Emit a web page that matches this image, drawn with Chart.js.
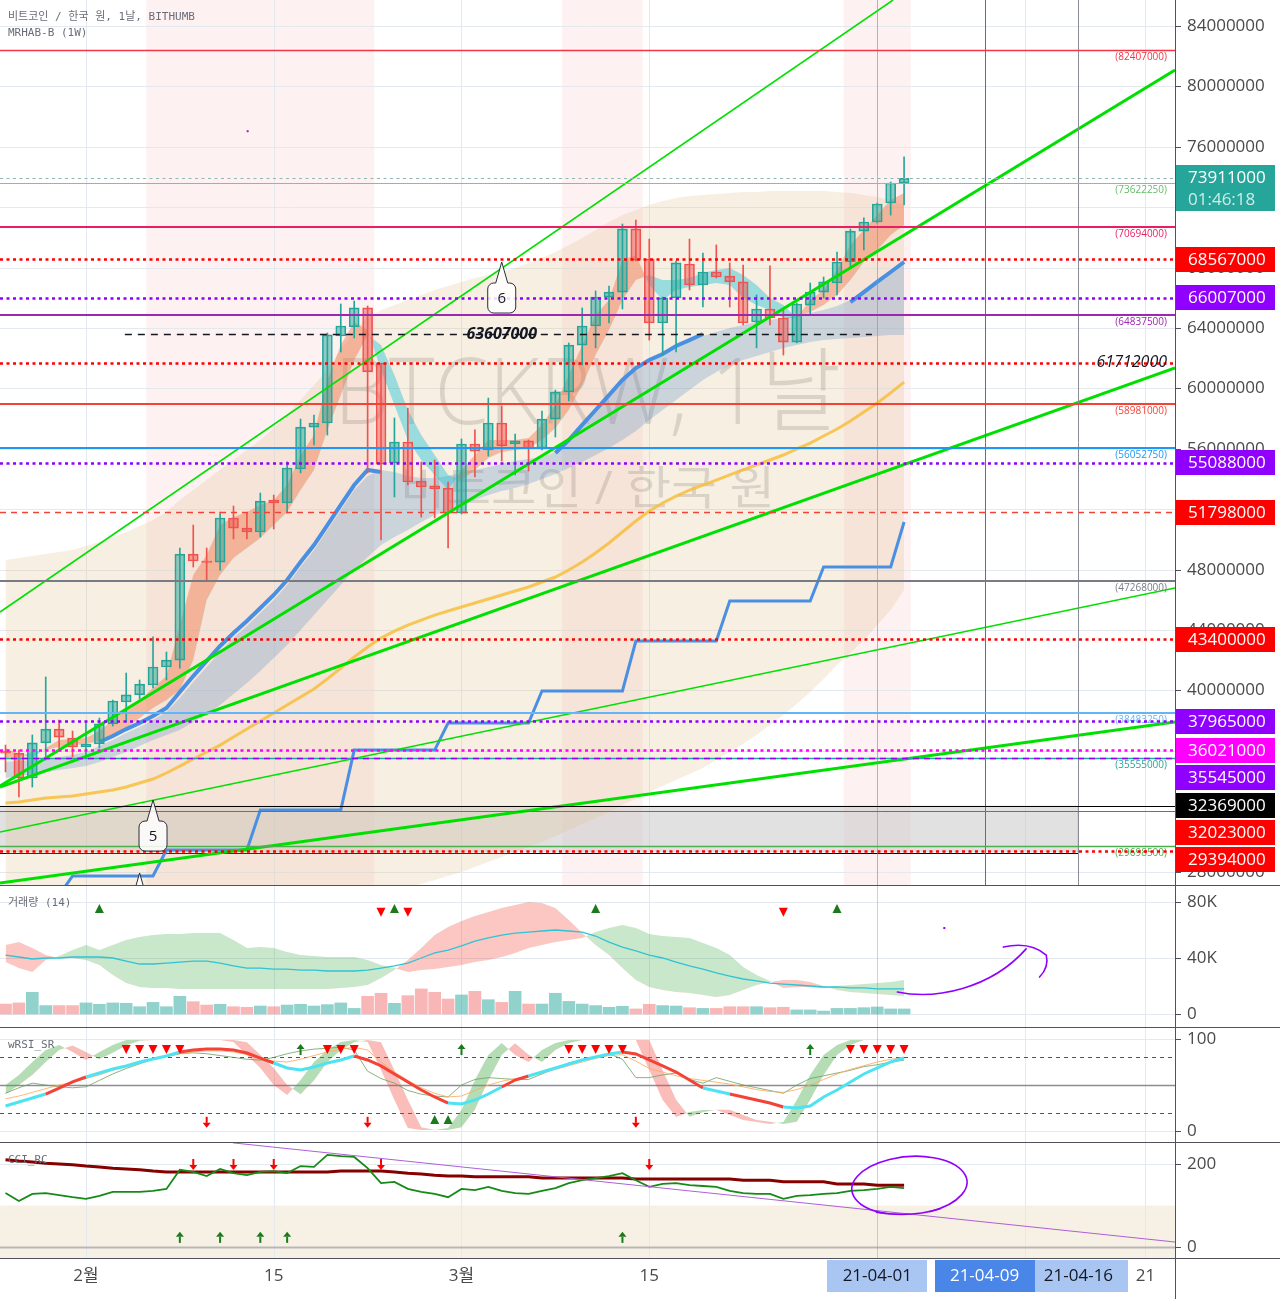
<!DOCTYPE html>
<html>
<head>
<meta charset="utf-8">
<title>BTCKRW 1D</title>
<script src="https://cdn.jsdelivr.net/npm/chart.js@4.4.1/dist/chart.umd.min.js"></script>
<style>
  html, body { margin: 0; padding: 0; background: #fff; }
  #wrap { position: relative; width: 1280px; height: 1299px; overflow: hidden; }
  #wrap canvas { position: absolute; left: 0; }
  .hsep { position: absolute; left: 0; width: 1280px; height: 1px; background: #50535e; }
  .vsep { position: absolute; top: 0; left: 1175px; width: 1px; height: 1299px; background: #50535e; }
</style>
</head>
<body>
<div id="wrap">
  <canvas id="mainChart" width="1280" height="885" style="top:0px"></canvas>
  <canvas id="volChart" width="1280" height="141" style="top:886px"></canvas>
  <canvas id="rsiChart" width="1280" height="114" style="top:1028px"></canvas>
  <canvas id="cciChart" width="1280" height="156" style="top:1143px"></canvas>
  <div class="hsep" style="top:885px"></div>
  <div class="hsep" style="top:1027px"></div>
  <div class="hsep" style="top:1142px"></div>
  <div class="hsep" style="top:1258px"></div>
  <div class="vsep"></div>
</div>
<script>
// ---------- data (day 0 = 2021-02-01, one entry per daily bar from 01-26 to 04-03) ----------
const dayIdx = [-6,-5,-4,-3,-2,-1,0,1,2,3, 4,5,6,7,8,9,10,11,12,13, 14,15,16,17,18,19,20,21,22,23,
  24,25,26,27,28,29,30,31,32,33, 34,35,36,37,38,39,40,41,42,43, 44,45,46,47,48,49,50,51,52,53,
  54,55,56,57,58,59,60,61];

// prices in millions of KRW
const openP = [35.99,35.85,34.20,36.52,37.44,36.85,36.25,36.45,37.78,39.23,
  39.70,40.36,41.55,42.01,49.03,48.57,48.50,51.42,50.75,50.49,
  52.61,52.41,54.66,57.44,57.71,63.47,64.07,65.33,61.68,55.06,
  56.45,53.87,53.54,53.40,51.75,56.32,55.92,57.71,56.32,56.52,
  56.05,57.97,59.76,62.87,64.13,66.05,66.38,70.56,68.57,64.33,
  65.99,68.24,66.85,67.71,67.44,67.05,64.40,65.26,64.66,63.07,
  65.52,66.38,66.98,68.37,70.42,71.02,72.28,73.60];
const highP = [36.38,36.05,37.05,40.89,38.04,37.31,37.91,38.17,39.36,41.15,
  40.69,43.54,42.54,49.43,50.95,49.43,51.81,52.21,51.75,53.07,
  52.94,55.13,57.97,58.24,63.67,65.59,65.79,65.46,61.68,58.04,
  58.70,55.13,55.26,53.80,56.65,57.25,59.36,58.83,56.98,56.58,
  58.50,59.89,63.01,65.33,66.45,66.78,70.89,71.15,69.89,66.05,
  68.44,69.89,68.97,69.50,68.31,68.17,66.19,68.11,65.19,65.66,
  66.98,67.38,69.03,70.56,71.29,72.28,73.67,75.33];
const lowP = [34.60,32.94,33.60,35.39,36.05,35.59,35.52,36.19,37.64,37.91,
  39.43,40.16,40.69,41.48,48.17,47.31,47.97,50.03,50.03,50.16,
  50.69,51.75,54.40,56.25,56.91,62.41,63.34,54.40,49.96,52.81,
  53.60,51.48,51.42,49.43,51.68,54.13,55.52,55.19,54.27,54.53,
  55.92,56.78,59.17,61.55,62.68,64.33,65.26,68.44,63.20,62.21,
  62.41,66.52,65.39,67.31,65.39,64.20,62.68,64.20,62.21,63.01,
  64.86,65.99,66.19,68.04,69.17,70.95,71.48,72.15];
const closeP = [35.85,34.20,36.52,37.44,36.91,36.25,36.45,37.78,39.30,39.70,
  40.42,41.55,42.01,49.03,48.57,48.47,51.42,50.75,50.49,52.54,
  52.41,54.73,57.44,57.71,63.54,64.13,65.33,61.09,54.99,56.45,
  53.80,53.47,53.34,51.75,56.32,55.85,57.71,56.19,56.52,56.05,
  57.97,59.76,62.87,64.13,66.05,66.38,70.56,68.50,64.33,65.99,
  68.31,66.85,67.71,67.38,67.05,64.33,65.26,64.66,63.07,65.59,
  66.38,67.05,68.37,70.42,71.02,72.21,73.60,73.91];

const channelUpper = [48.63,48.77,48.90,49.03,49.17,49.30,49.56,49.83,50.16,50.49,
  50.89,51.29,51.81,52.61,53.27,53.93,54.60,55.26,55.92,56.58,
  57.38,58.24,59.23,60.23,61.22,62.54,63.87,64.66,65.19,65.52,
  65.85,66.19,66.52,66.78,67.05,67.31,67.51,67.71,67.97,68.31,
  68.64,69.03,69.50,69.96,70.49,71.02,71.48,71.81,72.15,72.41,
  72.61,72.74,72.81,72.87,72.94,73.01,73.01,73.07,73.07,73.07,
  73.07,73.07,73.01,72.94,72.81,72.68,72.48,72.15];
const channelLower = [26.12,26.12,26.12,26.12,26.12,26.12,26.12,26.12,26.12,26.12,
  26.12,26.12,26.12,26.12,26.12,26.12,26.12,26.12,26.12,26.12,
  26.12,26.12,26.12,26.12,26.12,26.12,26.12,26.12,26.45,26.72,
  26.91,27.18,27.44,27.71,27.97,28.30,28.64,28.97,29.30,29.63,
  29.96,30.36,30.75,31.15,31.55,31.95,32.41,32.81,33.27,33.67,
  34.07,34.47,34.86,35.39,35.92,36.45,37.05,37.71,38.37,39.10,
  39.89,40.76,41.68,42.48,43.34,44.33,45.33,46.65];
const blueBandTop = [35.26,35.32,35.39,35.46,35.59,35.72,35.92,36.32,36.72,37.18,
  37.58,38.04,38.57,39.50,40.56,41.55,42.54,43.47,44.26,45.12,
  45.99,46.98,48.17,49.30,50.62,51.95,53.27,54.20,54.60,54.46,
  54.20,54.07,54.07,54.20,54.40,54.60,54.80,54.99,55.19,55.32,
  55.45,55.79,56.58,57.58,58.57,59.56,60.49,61.28,61.81,62.21,
  62.68,63.07,63.47,63.74,64.00,64.20,64.40,64.53,64.66,64.79,
  64.99,65.19,65.46,65.85,66.52,67.18,67.84,68.50];
const blueBandBot = [34.20,34.33,34.47,34.60,34.73,34.86,34.99,35.26,35.59,35.92,
  36.32,36.72,37.05,37.38,37.91,38.44,39.03,39.76,40.49,41.28,
  42.15,43.01,44.00,44.99,45.99,46.98,47.97,48.84,49.63,50.16,
  50.62,51.15,51.62,51.95,52.28,52.61,52.94,53.20,53.40,53.67,
  54.00,54.33,54.73,55.13,55.59,56.05,56.58,57.18,57.91,58.57,
  59.23,59.89,60.56,61.09,61.55,61.88,62.15,62.41,62.68,62.87,
  63.07,63.20,63.27,63.34,63.41,63.47,63.54,63.54];
const ribbonFast = [36.19,35.79,35.52,36.19,36.72,36.78,36.85,37.31,38.04,38.70,
  39.36,40.16,40.95,44.33,47.64,48.97,50.95,51.48,51.81,52.28,
  52.61,53.60,55.59,56.91,60.56,62.87,64.40,63.87,61.22,58.90,
  56.58,55.26,54.27,53.27,54.60,55.59,56.58,56.58,56.58,56.72,
  57.58,58.90,60.89,62.87,64.86,65.85,68.50,68.84,66.85,65.85,
  66.52,66.72,66.85,66.98,66.85,65.99,65.52,65.19,64.66,64.66,
  65.85,66.52,67.84,69.50,70.49,71.48,72.48,72.94];
const ribbonSlow = [35.52,35.59,35.92,36.05,36.25,36.38,36.45,36.65,37.05,37.51,
  38.17,38.84,39.36,40.03,42.01,45.99,47.64,48.77,49.43,50.09,
  50.95,51.81,53.27,54.60,57.25,59.56,61.88,63.54,62.87,60.89,
  58.57,56.91,55.59,54.27,53.93,54.60,55.39,55.79,55.92,56.05,
  56.58,57.38,58.57,60.23,62.21,63.87,65.85,67.18,67.51,67.18,
  67.18,67.31,67.64,67.84,67.97,67.51,66.85,65.99,65.52,64.66,
  65.06,65.52,66.19,67.18,68.37,69.17,70.16,70.82];
const slowMA = [32.54,32.61,32.74,32.87,32.94,33.01,33.14,33.27,33.40,33.60,
  33.87,34.13,34.53,34.99,35.46,35.92,36.38,36.91,37.44,37.97,
  38.50,39.03,39.56,40.09,40.76,41.48,42.21,42.87,43.47,43.93,
  44.33,44.66,44.99,45.26,45.52,45.79,46.05,46.32,46.58,46.85,
  47.18,47.51,47.97,48.50,49.10,49.76,50.49,51.22,51.88,52.41,
  52.87,53.27,53.60,53.93,54.27,54.60,54.93,55.26,55.59,55.99,
  56.38,56.85,57.31,57.84,58.44,59.03,59.70,60.42];
const weeklyStep = [null,null,null,null,26.45,27.71,27.71,27.71,27.71,27.71,
  27.71,27.71,29.43,29.43,29.43,29.43,29.43,29.43,29.43,32.08,
  32.08,32.08,32.08,32.08,32.08,32.08,36.05,36.05,36.05,36.05,
  36.05,36.05,36.05,37.84,37.84,37.84,37.84,37.84,37.84,37.84,
  39.96,39.96,39.96,39.96,39.96,39.96,39.96,43.27,43.27,43.27,
  43.27,43.27,43.27,43.27,45.92,45.92,45.92,45.92,45.92,45.92,
  45.92,48.17,48.17,48.17,48.17,48.17,48.17,51.15];
const blueMA = [null,null,null,null,null,null,null,36.58,36.98,37.44,
  37.84,38.31,38.84,39.89,40.95,41.95,42.94,43.80,44.60,45.46,
  46.32,47.31,48.50,49.63,50.95,52.28,53.60,54.60,54.46,null,
  null,null,null,null,null,null,null,null,null,null,
  null,55.72,56.58,57.58,58.57,59.56,60.56,61.35,61.88,62.28,
  62.81,63.20,63.60,null,null,null,null,null,null,null,
  null,null,null,65.72,66.38,67.05,67.71,68.37];

// drawn trend lines: [day0, price0, day1, price1] (millions)
const trendLines = [[-6.41,45.19,60.18,85.72],[-6.41,33.67,81.2,81.09],[-6.41,33.60,81.2,61.35],
  [-6.41,30.62,81.2,46.78],[-6.41,27.25,81.2,37.91]];
const trendThick = [false,true,true,false,true];

// horizontal price levels
const levelPrices = [82407000,73911000,73622250,70694000,68567000,66007000,64837500,61712000,58981000,
  56052750,55088000,51798000,47268000,43400000,38483250,37965000,36021000,35555000,35545000,
  32369000,32023000,29698500,29394000];
const levelColors = ['#f23645','#8fb8b4','#81c784','#e91e63','#ff0000','#9000ff','#9c27b0','#ff0000','#f44336',
  '#2196f3','#9000ff','#f44336','#787b86','#ff0000','#64b5f6','#9000ff','#ff00ff','#26a69a','#9000ff',
  '#000000','#f23645','#4caf50','#ff0000'];
const levelStyle = ['s','d','s','s','d','d','s','d','s','s','d','m','s','d','s','d','d','s','m','s','s','s','d'];
const levelWidth = [1.5,1,1,2,2.5,2.5,2,2.5,2,2,2.5,1.5,2,2.5,2,2.5,2.5,1.5,1.5,1,1,1.5,2.5];
const levelTagged = [true,false,true,true,false,false,true,false,true,true,false,false,true,false,true,
  false,false,true,false,false,false,true,false];
const boxPrices = [68567000,66007000,55088000,51798000,43400000,37965000,36021000,35545000,32369000,32023000,29394000];
const boxColors = ['#ff0000','#9000ff','#9000ff','#ff0000','#ff0000','#9000ff','#ff00ff','#9000ff','#000000','#ff0000','#ff0000'];
const lastPrice = 73911000, countdown = '01:46:18';
const markedLine = 63607000, markedFrom = 2.9, markedTo = 58.6;
const hotBars = [[5,21],[36,41],[57,61]];
const zoneTop = 32369000, zoneBottom = 29280000, zoneEndDay = 74;
const waveLabels = ['6','5',''], waveDays = [31,5,4], wavePrices = [68.37,32.74,27.91];
const mainTicks = [28000000,32000000,36000000,40000000,44000000,48000000,52000000,56000000,
  60000000,64000000,68000000,72000000,76000000,80000000,84000000];

// volume panel (thousands)
const volume = [7.1,7.9,15.5,6.0,6.0,6.0,7.9,6.9,7.9,7.6, 5.2,8.3,5.2,12.6,8.8,6.4,6.9,5.2,4.8,5.7,
  5.2,6.4,6.9,5.7,6.7,7.9,4.0,12.6,14.8,7.6, 13.1,17.9,15.5,10.7,13.6,16.2,10.2,8.3,16.2,7.1,
  7.1,14.8,9.0,7.1,6.0,4.8,5.5,3.6,6.9,6.0, 5.7,4.5,4.0,4.0,5.2,5.2,5.2,4.5,4.8,2.9, 2.9,2.1,4.0,4.0,4.5,5.0,3.6,3.6];
const volAvg = [42.1,40.7,39.3,40.0,40.0,40.7,40.7,40.7,40.0,37.8, 35.7,35.7,36.4,37.1,37.8,37.8,36.4,34.3,32.8,32.8,
  32.1,32.1,31.4,31.4,30.7,30.7,30.7,31.4,32.8,34.3, 36.4,40.0,43.6,45.7,48.6,52.1,54.3,56.4,57.8,58.5,
  59.3,60.0,59.3,58.5,55.7,51.4,47.8,45.0,42.1,40.0, 37.1,34.3,32.1,29.3,27.1,25.0,23.6,22.1,21.4,20.7,
  20.0,19.3,19.3,18.6,18.6,17.9,17.9,17.9];
const volCloudA = [37.1,32.8,30.0,38.6,41.4,45.7,49.3,45.7,49.3,52.8, 55.0,56.4,57.1,57.1,57.8,57.8,57.8,52.8,47.1,47.8,
  47.1,44.3,42.1,41.4,40.7,40.7,40.7,38.6,35.0,32.8, 30.0,31.4,32.1,33.6,35.0,37.1,38.6,40.7,43.6,47.1,
  49.3,51.4,52.8,54.3,58.5,61.4,63.5,61.4,57.1,55.7, 55.0,54.3,50.7,47.1,42.1,33.6,27.8,23.6,18.6,19.3,
  19.3,18.6,20.0,20.7,21.4,22.1,22.8,24.3];
const volCloudB = [49.3,51.4,47.1,42.1,40.0,40.0,38.6,35.0,27.8,22.1, 19.3,18.6,18.6,17.9,17.9,17.9,17.9,17.9,17.9,17.9,
  17.9,17.9,17.9,17.9,17.9,18.6,19.3,20.7,25.7,31.4, 38.6,47.1,56.4,62.1,66.4,70.0,72.8,75.7,77.8,80.0,
  79.3,75.7,67.1,57.8,49.3,42.1,32.8,24.3,19.3,17.1, 15.7,15.0,13.6,12.1,13.6,17.1,20.7,22.8,24.3,24.3,
  22.8,20.0,17.1,15.7,15.0,14.3,13.6,12.9];
const volUpDays = [1,23,38,56], volDownDays = [22,24,52];
const volTicks = [0,40,80];
const penDays = [60.5,63.3,68.2,70.1], penVals = [15.7,12.9,20.7,46.5];
const hookDays = [68.4,70.4,71.6,71.1], hookVals = [47.8,49.3,42.1,26.4];

// wRSI panel
const rsiMain = [27.2,31.5,35.9,40.2,46.7,53.3,58.7,63.0,67.4,70.7, 75.0,78.3,81.5,85.9,88.0,89.1,89.1,88.0,84.8,79.3,
  73.9,68.5,66.3,69.6,73.9,77.2,81.5,77.2,70.7,62.0, 53.3,44.6,37.0,30.4,29.3,33.7,40.2,47.8,55.4,59.8,
  64.1,68.5,72.8,77.2,80.4,83.7,85.9,83.7,77.2,70.7, 64.1,55.4,46.7,43.5,40.2,37.0,33.7,30.4,26.1,25.0,
  27.2,37.0,44.6,53.3,62.0,68.5,75.0,79.3];
const rsiUp = [1,1,1,0,0,0,1,1,1,1, 1,1,1,0,0,0,0,0,0,0, 1,1,1,1,1,1,0,0,0,0, 0,0,0,1,1,1,1,0,0,1,
  1,1,1,1,1,1,0,0,0,0, 0,0,1,1,0,0,0,0,1,1, 1,1,1,1,1,1,1,1];
const rsiRaw = [41,47,52,50,48,47,48,55,62,68, 73,78,81,84,85,84,82,80,78,77, 80,84,87,89,90,91,88,65,57,52,
  44,40,38,37,50,56,58,57,56,56, 62,68,74,77,80,84,78,58,58,61, 63,56,52,58,54,50,47,44,41,50,
  57,60,63,66,70,72,75,77];
const rsiSignal = [35,38,42,46,50,53,57,61,66,70, 74,78,81,84,86,87,87,86,83,79, 76,75,78,82,86,89,91,88,75,64,
  55,47,41,37,38,44,50,54,57,60, 63,67,71,75,79,82,83,76,68,64, 60,57,55,53,51,48,45,43,42,45,
  50,56,62,67,71,75,78,80];
const stochK = [50.0,60.9,75.0,88.0,93.5,85.9,77.2,85.9,93.5,98.9, 98.9,98.9,98.9,98.9,98.9,98.9,98.9,96.7,82.6,68.5,
  50.0,39.1,55.4,75.0,88.0,96.7,98.9,96.7,66.3,33.7, 3.3,1.1,1.1,3.3,22.8,55.4,82.6,95.7,82.6,75.0,
  88.0,95.7,98.9,98.9,98.9,98.9,98.9,98.9,66.3,33.7, 15.2,20.7,22.8,22.8,17.4,12.0,9.8,7.6,9.8,33.7,
  60.9,82.6,93.5,98.9,98.9,98.9,98.9,98.9];
const stochD = [40.0,50.0,61.0,75.0,88.0,93.0,86.0,78.0,85.0,93.0, 98.0,98.9,98.9,98.9,98.9,98.9,98.9,98.9,96.5,83.0,
  68.5,50.0,40.0,55.0,75.0,88.0,96.5,98.9,96.5,66.0, 34.0,4.0,1.1,1.1,4.0,23.0,55.0,82.5,95.5,83.0,
  75.0,88.0,95.5,98.9,98.9,98.9,98.9,98.9,98.9,66.0, 34.0,15.5,20.5,23.0,23.0,17.5,12.0,10.0,7.5,10.0,
  34.0,61.0,82.5,93.5,98.9,98.9,98.9,98.9];
const rsiSellDays = [3,4,5,6,7,18,19,20,36,37,38,39,40,57,58,59,60,61];
const rsiBuyArrowDays = [16,28,54], rsiDropArrowDays = [9,21,41], rsiBuyTriDays = [26,27];
const rsiTicks = [0,100];

// CCI panel
const cciLine = [130,111,128,130,125,120,116,123,133,133, 133,135,140,186,181,171,188,178,173,181,
  183,178,195,193,222,219,217,190,154,157, 140,133,128,120,140,137,145,135,130,128,
  135,142,154,161,166,171,178,161,145,152, 154,149,147,145,135,130,128,128,116,123,
  125,128,130,135,137,140,145,142];
const cciAvg = [210,207,205,202,200,198,195,193,190,188, 186,183,181,181,181,181,181,181,181,181,
  181,181,181,181,181,183,183,183,183,181, 178,176,173,171,171,169,169,169,169,169,
  166,166,166,166,166,166,166,164,164,164, 164,164,164,164,164,161,161,161,157,157,
  157,157,152,152,152,149,149,149];
const cciTrend = [10.95,251,81.2,12];
const cciDownDays = [8,11,14,22,42], cciUpDays = [7,10,13,15,40];
const cciTicks = [0,200];

// time axis
const gridDays = [0,14,28,42,59,70,79];
const timeDays = [0,14,28,42,79], timeLabels = ['2월','15','3월','15','21'];
const dateBoxDays = [59,67,74], dateBoxLabels = ['21-04-01','21-04-09','21-04-16'], dateBoxActive = 1;

// ---------- helpers ----------
const X_MIN = -6.41, X_MAX = 81.2, AXIS_W = 105;
const FONT = "'Open Sans', 'Noto Sans', 'Noto Sans CJK KR', sans-serif";
const MONO = "'DejaVu Sans Mono', 'Noto Sans CJK KR', monospace";
const TEAL = '#26a69a', RED = '#ef5350';
const isUp = closeP.map((c, i) => c >= openP[i]);
const series = vals => vals.map((v, i) => ({ x: dayIdx[i], y: v }));

function baseOptions(yMin, yMax, padBottom) {
  return {
    responsive: false, animation: false, devicePixelRatio: 1, events: [],
    layout: { padding: { left: 0, top: 0, right: AXIS_W, bottom: padBottom || 0 } },
    plugins: { legend: { display: false }, tooltip: { enabled: false } },
    scales: {
      x: { type: 'linear', min: X_MIN, max: X_MAX, display: false, offset: false },
      y: { type: 'linear', min: yMin, max: yMax, display: false }
    }
  };
}
function lineSet(vals, color, width, order, extra) {
  return Object.assign({ type: 'line', data: series(vals), borderColor: color, borderWidth: width,
    pointRadius: 0, fill: false, tension: 0, order: order }, extra || {});
}
function hline(ctx, a, py, color, width, dash, x0, x1) {
  ctx.save();
  ctx.beginPath();
  ctx.strokeStyle = color; ctx.lineWidth = width; ctx.setLineDash(dash || []);
  ctx.moveTo(x0 === undefined ? a.left : x0, py); ctx.lineTo(x1 === undefined ? a.right : x1, py);
  ctx.stroke(); ctx.restore();
}
function vline(ctx, px, top, bottom, color, width) {
  ctx.beginPath(); ctx.strokeStyle = color; ctx.lineWidth = width;
  ctx.moveTo(px, top); ctx.lineTo(px, bottom); ctx.stroke();
}
function paintBg(chart) {
  const ctx = chart.ctx;
  ctx.save(); ctx.fillStyle = '#fff'; ctx.fillRect(0, 0, chart.width, chart.height); ctx.restore();
}
function drawGrid(chart, ticks, k) {
  const { ctx, chartArea: a, scales: { x, y } } = chart;
  ctx.save(); ctx.lineWidth = 1; ctx.strokeStyle = '#e4e9ef';
  ticks.forEach(t => { const py = Math.round(y.getPixelForValue(t / (k || 1))) + 0.5; ctx.beginPath(); ctx.moveTo(a.left, py); ctx.lineTo(a.right, py); ctx.stroke(); });
  gridDays.forEach(d => { const px = Math.round(x.getPixelForValue(d)) + 0.5; vline(ctx, px, a.top, a.bottom, d === 59 ? 'rgba(110,155,235,0.45)' : '#e4e9ef', 1); });
  ctx.restore();
}
function axisLabels(chart, ticks, fmt, k, skip) {
  const { ctx, scales: { y } } = chart;
  ctx.save();
  ctx.font = '17px ' + FONT; ctx.fillStyle = '#4a4a4a'; ctx.textAlign = 'left'; ctx.textBaseline = 'middle';
  ticks.forEach(t => {
    const py = Math.round(y.getPixelForValue(t / (k || 1))) + 0.5;
    ctx.beginPath(); ctx.strokeStyle = '#50535e'; ctx.lineWidth = 1; ctx.moveTo(1175, py); ctx.lineTo(1181, py); ctx.stroke();
    if (skip && py > skip[0] - 8 && py < skip[1] + 8) return;
    ctx.fillText(fmt(t), 1187, py);
  });
  ctx.restore();
}
function panelTitle(ctx, text) {
  ctx.save(); ctx.font = '11px ' + MONO; ctx.fillStyle = '#6a6d78'; ctx.textAlign = 'left'; ctx.textBaseline = 'middle';
  ctx.fillText(text, 8, 17); ctx.restore();
}
function triangle(ctx, px, py, up, color) {
  ctx.beginPath(); ctx.fillStyle = color;
  if (up) { ctx.moveTo(px, py - 5); ctx.lineTo(px + 4.5, py + 4); ctx.lineTo(px - 4.5, py + 4); }
  else { ctx.moveTo(px - 4.5, py - 4); ctx.lineTo(px + 4.5, py - 4); ctx.lineTo(px, py + 5); }
  ctx.closePath(); ctx.fill();
}
function arrow(ctx, px, py, up, color) {
  ctx.fillStyle = color; ctx.beginPath();
  if (up) { ctx.moveTo(px, py - 6); ctx.lineTo(px + 4, py - 1); ctx.lineTo(px - 4, py - 1); ctx.closePath(); ctx.fill(); ctx.fillRect(px - 1, py - 1, 2, 6); }
  else { ctx.moveTo(px, py + 6); ctx.lineTo(px + 4, py + 1); ctx.lineTo(px - 4, py + 1); ctx.closePath(); ctx.fill(); ctx.fillRect(px - 1, py - 5, 2, 6); }
}
function fitText(ctx, text, cx, cy, font, width) {
  ctx.font = font;
  const m = ctx.measureText(text).width;
  ctx.save(); ctx.translate(cx, cy); ctx.scale(width / m, 1); ctx.fillText(text, 0, 0); ctx.restore();
}
function callout(ctx, tipX, tipY, label) {
  const w = 28, h = 30, drop = 21, r = 6, half = 6;
  const left = tipX - w / 2, top = tipY + drop;
  ctx.save();
  ctx.beginPath();
  ctx.moveTo(left + r, top); ctx.lineTo(tipX - half, top); ctx.lineTo(tipX, tipY); ctx.lineTo(tipX + half, top);
  ctx.lineTo(left + w - r, top); ctx.arcTo(left + w, top, left + w, top + r, r);
  ctx.lineTo(left + w, top + h - r); ctx.arcTo(left + w, top + h, left + w - r, top + h, r);
  ctx.lineTo(left + r, top + h); ctx.arcTo(left, top + h, left, top + h - r, r);
  ctx.lineTo(left, top + r); ctx.arcTo(left, top, left + r, top, r);
  ctx.closePath();
  ctx.fillStyle = 'rgba(255,255,255,0.85)'; ctx.fill();
  ctx.strokeStyle = '#2a2e39'; ctx.lineWidth = 1; ctx.stroke();
  ctx.fillStyle = '#131722'; ctx.font = '15px ' + FONT; ctx.textAlign = 'center'; ctx.textBaseline = 'middle';
  ctx.fillText(label, tipX, top + h / 2 + 1);
  ctx.restore();
}

// ---------- main price panel ----------
const M = 1e6;
let priceBox = [0, 0];
const mainPlugin = {
  id: 'mainPlugin',
  beforeDraw(chart) {
    const { ctx, chartArea: a, scales: { x } } = chart;
    paintBg(chart);
    ctx.save(); ctx.fillStyle = 'rgba(242,54,69,0.07)';
    hotBars.forEach(([s, e]) => { const x0 = x.getPixelForValue(s - 0.5), x1 = x.getPixelForValue(e + 0.5); ctx.fillRect(x0, a.top, x1 - x0, a.bottom - a.top); });
    ctx.restore();
    drawGrid(chart, mainTicks, M);
  },
  beforeDatasetsDraw(chart) {
    const { ctx, chartArea: a, scales: { x, y } } = chart;
    ctx.save();
    ctx.fillStyle = 'rgba(105,105,110,0.26)'; ctx.textAlign = 'center'; ctx.textBaseline = 'middle';
    const cx = (a.left + a.right) / 2, cy = (a.top + a.bottom) / 2;
    fitText(ctx, 'BTCKRW, 1날', cx, cy - 45, '300 92px ' + FONT, 507);
    fitText(ctx, '비트코인 / 한국 원', cx, cy + 48, '46px ' + FONT, 375);
    // boxed zone
    const zt = y.getPixelForValue(zoneTop / M), zb = y.getPixelForValue(zoneBottom / M), zr = x.getPixelForValue(zoneEndDay);
    ctx.fillStyle = 'rgba(195,195,195,0.5)'; ctx.fillRect(a.left, zt, zr - a.left, zb - zt);
    ctx.strokeStyle = '#000'; ctx.lineWidth = 1; ctx.strokeRect(a.left - 1, Math.round(zt) + 0.5, zr - a.left + 1, Math.round(zb - zt));
    ctx.restore();
  },
  afterDatasetsDraw(chart) {
    const { ctx, chartArea: a, scales: { x, y } } = chart;
    ctx.save();
    vline(ctx, Math.round(x.getPixelForValue(67)) + 0.5, a.top, a.bottom, '#6a6d78', 1);
    vline(ctx, Math.round(x.getPixelForValue(74)) + 0.5, a.top, a.bottom, '#8a8d98', 1);
    vline(ctx, Math.round(x.getPixelForValue(59)) + 0.5, a.top, a.bottom, 'rgba(110,155,235,0.45)', 1);
    levelPrices.forEach((p, i) => {
      const py = Math.round(y.getPixelForValue(p / M)) + (levelWidth[i] % 2 ? 0.5 : 0);
      const dash = levelStyle[i] === 'd' ? [3, 3.5] : levelStyle[i] === 'm' ? [6, 5] : [];
      hline(ctx, a, py, levelColors[i], levelWidth[i], dash);
      if (levelTagged[i]) {
        ctx.font = '10px ' + FONT; ctx.fillStyle = levelColors[i] === '#81c784' ? '#66bb6a' : levelColors[i];
        ctx.textAlign = 'right'; ctx.textBaseline = 'top';
        ctx.fillText('(' + p + ')', 1167, py + 2);
      }
    });
    // dashed marked level with its price written in the middle
    const my = Math.round(y.getPixelForValue(markedLine / M)) + 0.5;
    hline(ctx, a, my, '#131722', 1.3, [7, 6], x.getPixelForValue(markedFrom), x.getPixelForValue(markedTo));
    ctx.font = 'italic bold 16px ' + FONT; ctx.fillStyle = '#131722'; ctx.textAlign = 'center'; ctx.textBaseline = 'middle';
    ctx.fillText(String(markedLine), x.getPixelForValue(31), my);
    ctx.font = 'italic 16px ' + FONT; ctx.textAlign = 'right';
    ctx.fillText('61712000', 1167, y.getPixelForValue(61712000 / M));
    // wave count callouts
    waveDays.forEach((d, i) => callout(ctx, x.getPixelForValue(d), y.getPixelForValue(wavePrices[i]), waveLabels[i]));
    // small mark left on the chart
    ctx.fillStyle = '#9c27b0'; ctx.fillRect(x.getPixelForValue(11.98), y.getPixelForValue(77.1), 2, 2);
    // legend
    ctx.font = '11px ' + MONO; ctx.fillStyle = '#6a6d78'; ctx.textAlign = 'left'; ctx.textBaseline = 'middle';
    ctx.fillText('비트코인 / 한국 원, 1날, BITHUMB', 8, 17);
    ctx.fillText('MRHAB-B (1W)', 8, 33);
    ctx.restore();
  },
  afterDraw(chart) {
    const { ctx, scales: { y } } = chart;
    const lp = y.getPixelForValue(lastPrice / M);
    const top0 = Math.round(lp - 13), bottom0 = top0 + 46;
    axisLabels(chart, mainTicks, t => String(t), M, [top0, bottom0]);
    ctx.save();
    ctx.font = '17px ' + FONT; ctx.textAlign = 'left'; ctx.textBaseline = 'middle';
    // last price with countdown
    ctx.fillStyle = TEAL; ctx.fillRect(1176, top0, 99, 46);
    ctx.fillStyle = '#fff'; ctx.fillText(String(lastPrice), 1188, top0 + 13);
    ctx.fillStyle = 'rgba(255,255,255,0.78)'; ctx.fillText(countdown, 1188, top0 + 35);
    let prevBottom = bottom0;
    boxPrices.forEach((p, i) => {
      let top = Math.round(y.getPixelForValue(p / M) - 12.5);
      if (top < prevBottom + 2) top = prevBottom + 2;
      ctx.fillStyle = boxColors[i]; ctx.fillRect(1176, top, 99, 25);
      ctx.fillStyle = '#fff'; ctx.fillText(String(p), 1188, top + 13);
      prevBottom = top + 25;
    });
    ctx.restore();
  }
};

const candleData = (a, b) => dayIdx.map((d, i) => ({ x: d, y: [a[i], b[i]] }));
const mainSets = [
  lineSet(channelUpper, 'rgba(0,0,0,0)', 0, 100, { fill: '+1', backgroundColor: 'rgba(225,190,140,0.25)' }),
  lineSet(channelLower, 'rgba(0,0,0,0)', 0, 100),
  lineSet(blueBandTop, 'rgba(0,0,0,0)', 0, 90, { fill: '+1', backgroundColor: 'rgba(70,130,200,0.25)' }),
  lineSet(blueBandBot, 'rgba(0,0,0,0)', 0, 90),
  lineSet(ribbonFast, 'rgba(0,0,0,0)', 0, 80, { fill: { target: '+1', above: 'rgba(240,120,75,0.45)', below: 'rgba(0,188,212,0.38)' } }),
  lineSet(ribbonSlow, 'rgba(0,0,0,0)', 0, 80),
  lineSet(slowMA, 'rgba(247,190,60,0.85)', 3, 70),
  lineSet(weeklyStep, '#4a90e2', 3, 65),
  lineSet(blueMA, '#4a90e2', 4, 60),
  { type: 'bar', data: candleData(lowP, highP), backgroundColor: isUp.map(u => u ? TEAL : RED),
    barThickness: 1, grouped: false, order: 50 },
  { type: 'bar', data: candleData(openP, closeP), backgroundColor: isUp.map(u => u ? 'rgba(38,166,154,0.5)' : 'rgba(239,83,80,0.5)'),
    borderColor: isUp.map(u => u ? TEAL : RED), borderWidth: 1, borderSkipped: false, barThickness: 10, grouped: false, order: 49 }
];
trendLines.forEach((t, i) => mainSets.push({ type: 'line', data: [{ x: t[0], y: t[1] }, { x: t[2], y: t[3] }],
  borderColor: '#00e000', borderWidth: trendThick[i] ? 3 : 1.6, pointRadius: 0, fill: false, order: 10 }));

new Chart(document.getElementById('mainChart'), {
  type: 'line', data: { datasets: mainSets },
  options: baseOptions(27.113, 85.722), plugins: [mainPlugin]
});

// ---------- volume panel (values in thousands) ----------
const volPlugin = {
  id: 'volPlugin',
  beforeDraw(chart) { paintBg(chart); drawGrid(chart, volTicks); },
  afterDatasetsDraw(chart) {
    const { ctx, scales: { x, y } } = chart;
    ctx.save();
    volUpDays.forEach(d => triangle(ctx, x.getPixelForValue(d), y.getPixelForValue(75), true, '#1b7a1b'));
    volDownDays.forEach(d => triangle(ctx, x.getPixelForValue(d), y.getPixelForValue(73), false, '#ff0000'));
    // hand-drawn pen stroke
    ctx.strokeStyle = '#9000ff'; ctx.lineWidth = 1.6; ctx.lineCap = 'round';
    const P = (d, v) => [x.getPixelForValue(d), y.getPixelForValue(v)];
    let p = penDays.map((d, i) => P(d, penVals[i]));
    ctx.beginPath(); ctx.moveTo(...p[0]); ctx.bezierCurveTo(p[1][0], p[1][1] + 4, p[2][0] - 10, p[2][1] + 4, p[3][0], p[3][1]); ctx.stroke();
    p = hookDays.map((d, i) => P(d, hookVals[i]));
    ctx.beginPath(); ctx.moveTo(...p[0]); ctx.quadraticCurveTo(p[1][0], p[1][1] - 4, p[2][0], p[2][1]); ctx.quadraticCurveTo(p[2][0] + 3, p[2][1] + 12, p[3][0], p[3][1]); ctx.stroke();
    ctx.fillStyle = '#9000ff'; ctx.fillRect(x.getPixelForValue(64.0) - 1, y.getPixelForValue(61.4) - 1, 2, 2);
    ctx.restore();
    panelTitle(ctx, '거래량 (14)');
  },
  afterDraw(chart) { axisLabels(chart, volTicks, t => t === 0 ? '0' : t + 'K'); }
};
new Chart(document.getElementById('volChart'), {
  type: 'line',
  data: { datasets: [
    lineSet(volAvg, '#2ec4d4', 1.3, 5),
    lineSet(volCloudA, 'rgba(0,0,0,0)', 0, 20, { fill: { target: '+1', above: 'rgba(76,175,80,0.3)', below: 'rgba(244,67,54,0.3)' } }),
    lineSet(volCloudB, 'rgba(0,0,0,0)', 0, 20),
    { type: 'bar', data: series(volume), backgroundColor: isUp.map(u => u ? 'rgba(38,166,154,0.5)' : 'rgba(239,83,80,0.42)'),
      barThickness: 12, grouped: false, order: 30 }
  ] },
  options: baseOptions(-9.29, 91.43), plugins: [volPlugin]
});

// ---------- wRSI panel ----------
const rsiPlugin = {
  id: 'rsiPlugin',
  beforeDraw(chart) { paintBg(chart); drawGrid(chart, rsiTicks); },
  beforeDatasetsDraw(chart) {
    const { ctx, chartArea: a, scales: { y } } = chart;
    hline(ctx, a, Math.round(y.getPixelForValue(80)) + 0.5, '#50535e', 1, [4, 4]);
    hline(ctx, a, Math.round(y.getPixelForValue(20)) + 0.5, '#50535e', 1, [4, 4]);
    hline(ctx, a, Math.round(y.getPixelForValue(50)) + 0.5, '#8a8d98', 1.5);
  },
  afterDatasetsDraw(chart) {
    const { ctx, scales: { x, y } } = chart;
    ctx.save();
    rsiSellDays.forEach(d => triangle(ctx, x.getPixelForValue(d), y.getPixelForValue(89), false, '#ff0000'));
    rsiBuyArrowDays.forEach(d => arrow(ctx, x.getPixelForValue(d), y.getPixelForValue(88), true, '#1b7a1b'));
    rsiDropArrowDays.forEach(d => arrow(ctx, x.getPixelForValue(d), y.getPixelForValue(10), false, '#ff0000'));
    rsiBuyTriDays.forEach(d => triangle(ctx, x.getPixelForValue(d), y.getPixelForValue(12), true, '#1b7a1b'));
    ctx.restore();
    panelTitle(ctx, 'wRSI_SR');
  },
  afterDraw(chart) { axisLabels(chart, rsiTicks, t => String(t)); }
};
new Chart(document.getElementById('rsiChart'), {
  type: 'line',
  data: { datasets: [
    lineSet(rsiMain, '#4de3f2', 3, 5, { segment: { borderColor: c => rsiUp[c.p0DataIndex] ? '#4de3f2' : '#f44336' } }),
    lineSet(rsiRaw, 'rgba(110,160,95,0.8)', 1, 8),
    lineSet(rsiSignal, 'rgba(255,170,95,0.85)', 1, 7),
    lineSet(stochK, 'rgba(0,0,0,0)', 0, 20, { fill: { target: '+1', above: 'rgba(76,175,80,0.42)', below: 'rgba(244,67,54,0.35)' } }),
    lineSet(stochD, 'rgba(0,0,0,0)', 0, 20)
  ] },
  options: baseOptions(-11.96, 111.96), plugins: [rsiPlugin]
});

// ---------- CCI panel + time axis ----------
const cciPlugin = {
  id: 'cciPlugin',
  beforeDraw(chart) {
    const { ctx, chartArea: a, scales: { y } } = chart;
    paintBg(chart);
    ctx.save(); ctx.fillStyle = 'rgba(225,205,170,0.3)';
    const t = y.getPixelForValue(100); ctx.fillRect(a.left, t, a.right - a.left, a.bottom - t);
    ctx.restore();
    drawGrid(chart, cciTicks);
    hline(ctx, a, Math.round(y.getPixelForValue(0)) + 0.5, 'rgba(150,150,150,0.6)', 2);
  },
  afterDatasetsDraw(chart) {
    const { ctx, chartArea: a, scales: { x, y } } = chart;
    ctx.save();
    ctx.beginPath(); ctx.rect(a.left, a.top, a.right - a.left, a.bottom - a.top); ctx.clip();
    ctx.beginPath(); ctx.strokeStyle = '#b05fd6'; ctx.lineWidth = 1;
    ctx.moveTo(x.getPixelForValue(cciTrend[0]), y.getPixelForValue(cciTrend[1]));
    ctx.lineTo(x.getPixelForValue(cciTrend[2]), y.getPixelForValue(cciTrend[3])); ctx.stroke();
    cciDownDays.forEach(d => arrow(ctx, x.getPixelForValue(d), y.getPixelForValue(200), false, '#ff0000'));
    cciUpDays.forEach(d => arrow(ctx, x.getPixelForValue(d), y.getPixelForValue(22), true, '#1b7a1b'));
    // hand-drawn circle
    const cx = x.getPixelForValue(61.4), cy = y.getPixelForValue(148);
    const rx = x.getPixelForValue(65.7) - cx, ry = cy - y.getPixelForValue(218);
    ctx.beginPath(); ctx.strokeStyle = '#9000ff'; ctx.lineWidth = 1.6;
    ctx.ellipse(cx, cy, rx, ry, -0.08, 0.65 * Math.PI, 2.4 * Math.PI); ctx.stroke();
    ctx.beginPath(); ctx.moveTo(x.getPixelForValue(58.9), y.getPixelForValue(84));
    ctx.quadraticCurveTo(x.getPixelForValue(61.5), y.getPixelForValue(70), x.getPixelForValue(63.7), y.getPixelForValue(92)); ctx.stroke();
    ctx.restore();
    panelTitle(ctx, 'CCI_RC');
  },
  afterDraw(chart) {
    const { ctx, chartArea: a, scales: { x } } = chart;
    axisLabels(chart, cciTicks, t => String(t));
    ctx.save();
    ctx.font = '17px ' + FONT; ctx.textAlign = 'center'; ctx.textBaseline = 'middle';
    const ly = a.bottom + 18;
    ctx.fillStyle = '#4a4a4a';
    timeDays.forEach((d, i) => ctx.fillText(timeLabels[i], x.getPixelForValue(d), ly));
    const order = dateBoxDays.map((d, i) => i).filter(i => i !== dateBoxActive).concat([dateBoxActive]);
    order.forEach(i => {
      const px = x.getPixelForValue(dateBoxDays[i]);
      ctx.fillStyle = i === dateBoxActive ? '#4a86e8' : '#a9c5f2';
      ctx.fillRect(Math.round(px - 50), a.bottom + 2, 100, 32);
      ctx.fillStyle = i === dateBoxActive ? '#ffffff' : '#131722';
      ctx.fillText(dateBoxLabels[i], px, ly);
    });
    ctx.restore();
  }
};
new Chart(document.getElementById('cciChart'), {
  type: 'line',
  data: { datasets: [
    lineSet(cciLine, '#168a16', 1.8, 5),
    lineSet(cciAvg, '#860000', 3, 6)
  ] },
  options: baseOptions(-26.5, 250.6, 41), plugins: [cciPlugin]
});
</script>
</body>
</html>
